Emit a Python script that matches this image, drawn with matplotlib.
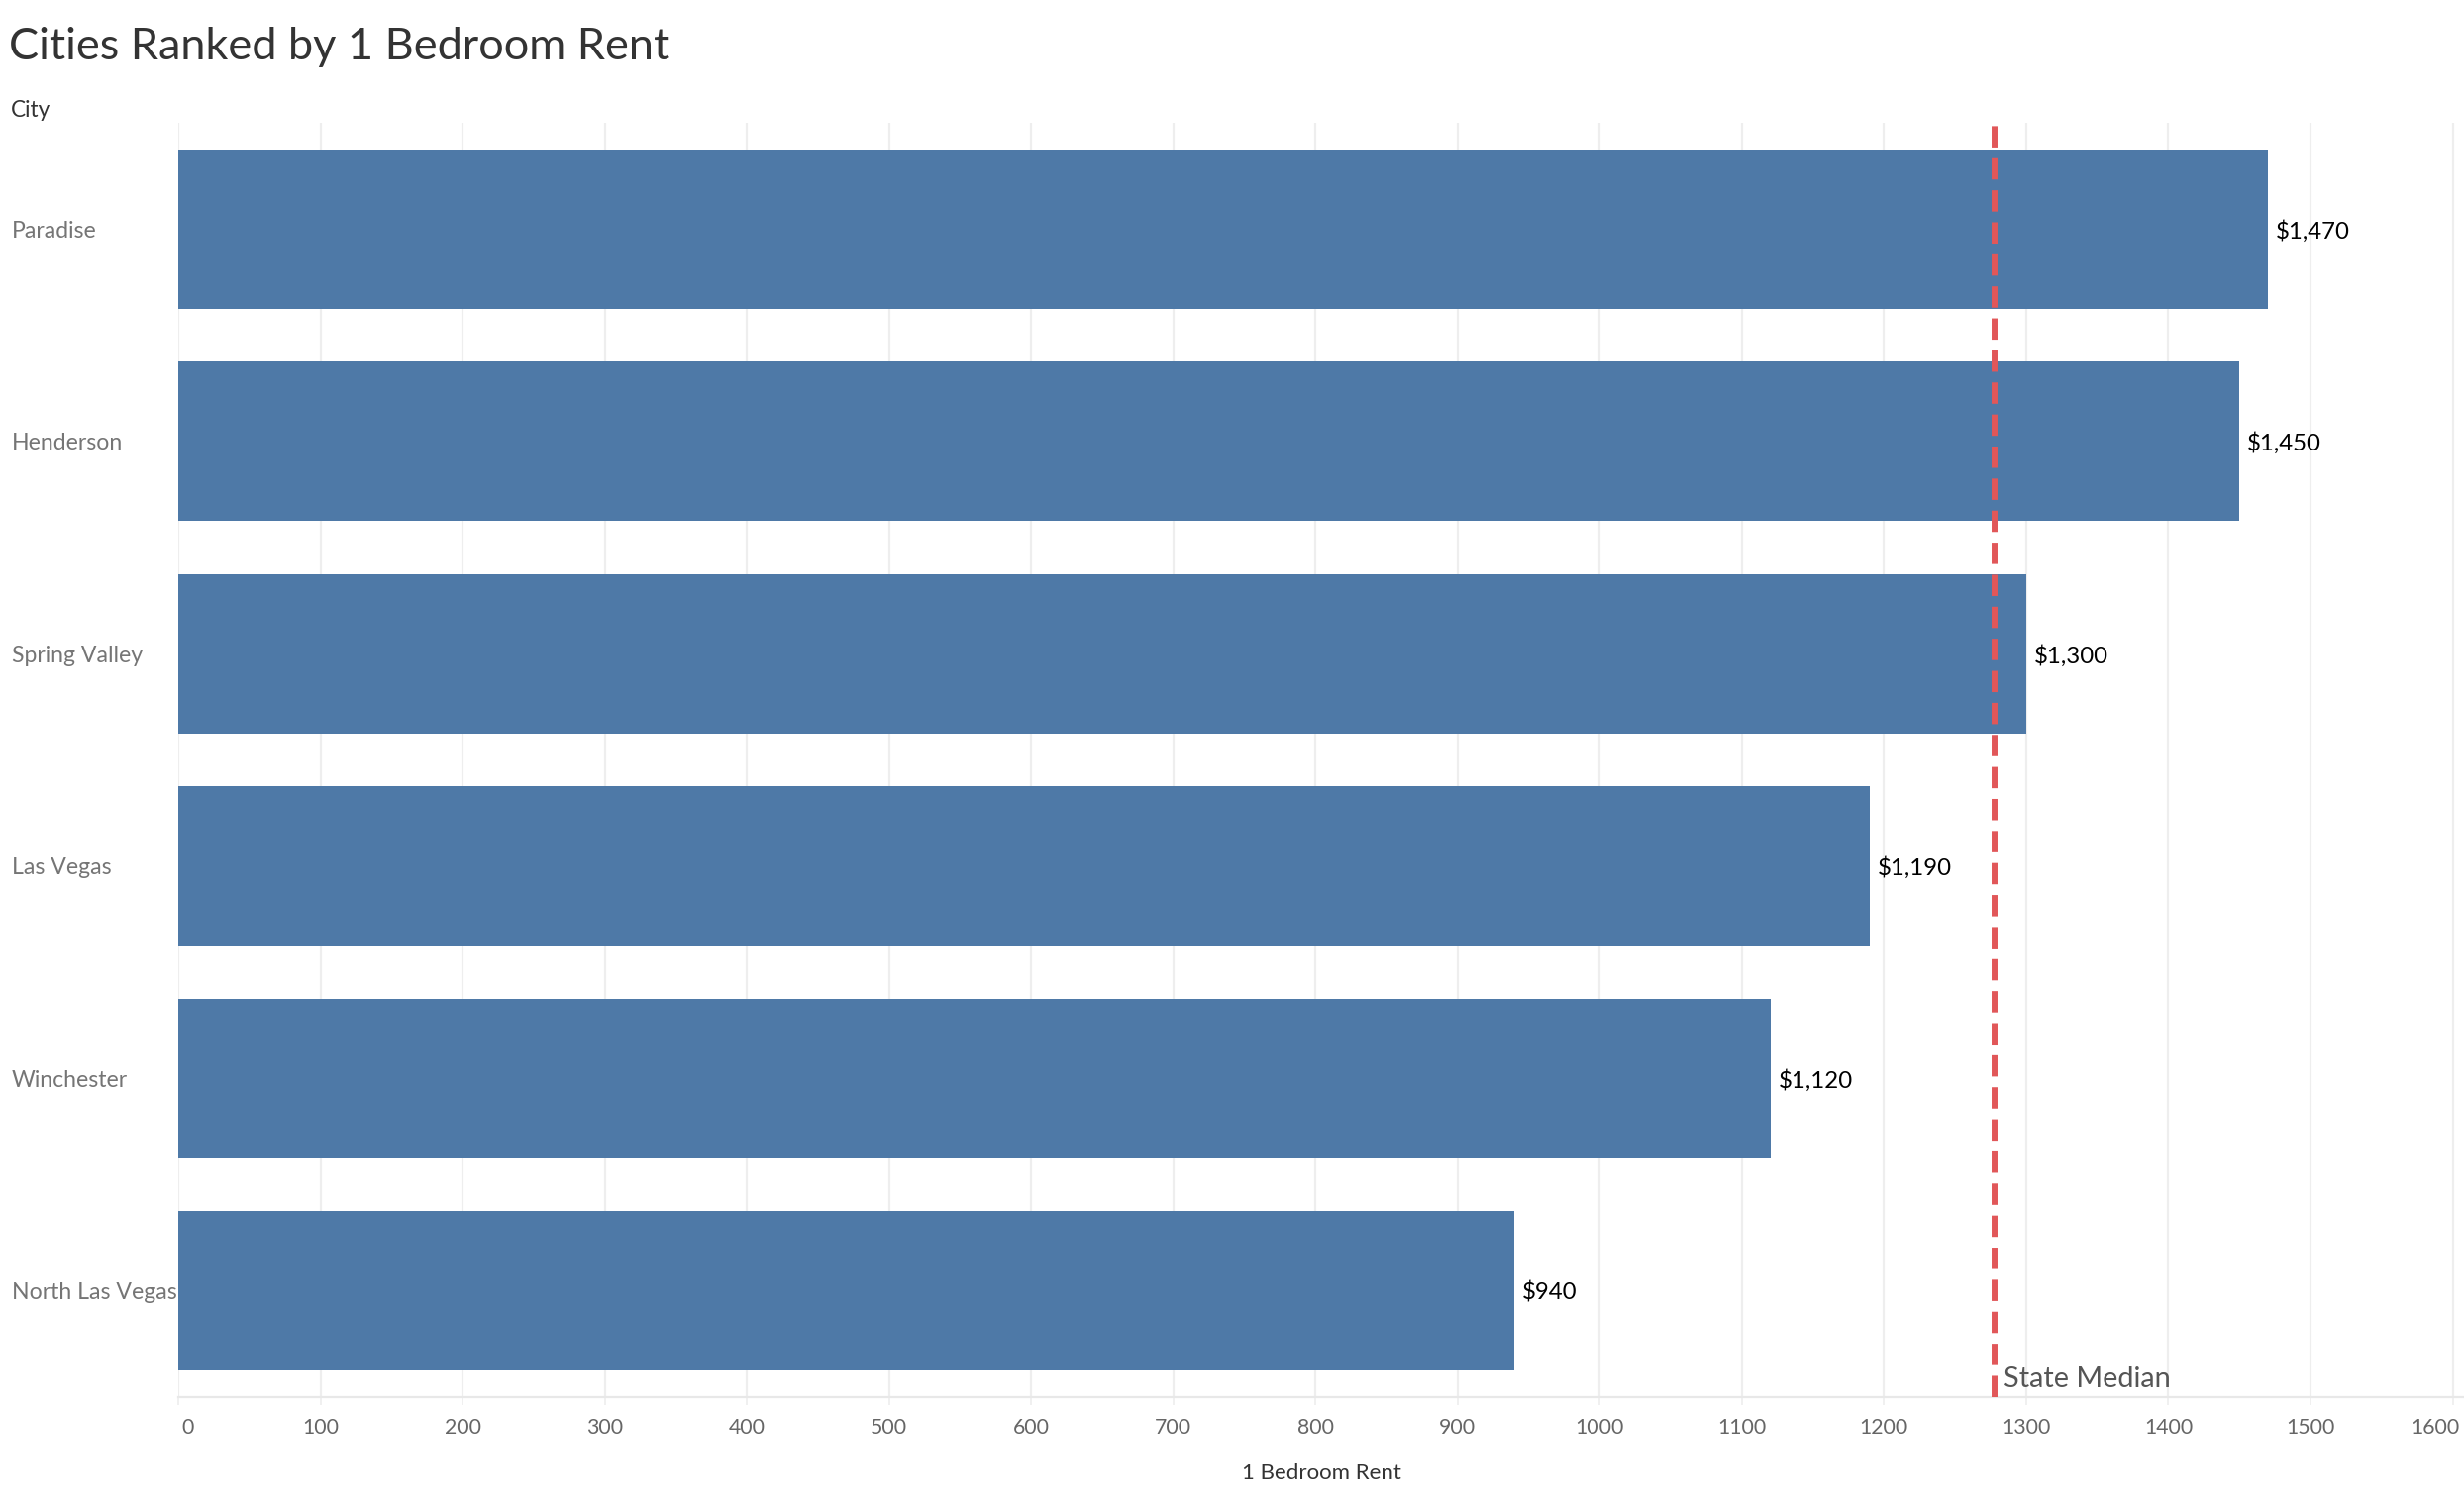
import matplotlib
matplotlib.use("Agg")
import matplotlib.pyplot as plt
import matplotlib.transforms as mtransforms

# ---- data ----
cities = ["Paradise", "Henderson", "Spring Valley", "Las Vegas", "Winchester", "North Las Vegas"]
rent = [1470, 1450, 1300, 1190, 1120, 940]
state_median = 1278
xticks = [0, 100, 200, 300, 400, 500, 600, 700, 800, 900, 1000, 1100, 1200, 1300, 1400, 1500, 1600]
xtick_labels = [str(t) for t in xticks]
value_labels = ["$1,470", "$1,450", "$1,300", "$1,190", "$1,120", "$940"]

FONT = ["Lato", "DejaVu Sans"]
plt.rcParams["font.family"] = FONT
plt.rcParams["lines.scale_dashes"] = False

W, H = 2488, 1514
DPI = 100
fig = plt.figure(figsize=(W / DPI, H / DPI), dpi=DPI)
fig.patch.set_facecolor("white")

left_px, right_px, top_px, bottom_px = 180, 2488, 124, 1411
ax = fig.add_axes([left_px / W, 1 - bottom_px / H, (right_px - left_px) / W, (bottom_px - top_px) / H])

BLUE = "#4E79A7"
RED = "#E15759"
GRID = "#EEEEEE"

ypos = list(range(len(cities)))
ax.barh(ypos, rent, height=0.75, color=BLUE, zorder=2)
ax.set_xlim(0, 1608)
ax.set_ylim(len(cities) - 0.5, -0.5)

# grid
ax.set_axisbelow(True)
ax.set_xticks(xticks)
ax.set_xticklabels(xtick_labels)
ax.grid(axis="x", color=GRID, linewidth=1.6, zorder=0)
ax.grid(axis="y", visible=False)
for s in ["top", "right", "left"]:
    ax.spines[s].set_visible(False)
ax.spines["bottom"].set_color("#E8E8E8")
ax.spines["bottom"].set_linewidth(1.6)
ax.tick_params(axis="x", length=5.8, width=1.2, color="#EEEEEE", pad=9, labelcolor="#666666")
ax.tick_params(axis="y", length=0, pad=121, labelcolor="#757575")
ax.set_yticks(ypos)
ax.set_yticklabels(cities)
for lab in ax.get_yticklabels():
    lab.set_ha("left")

# median line
ax.plot([state_median, state_median], [len(cities) - 0.5, -0.5], color=RED,
        linewidth=4.3, linestyle=(0, (15.5, 7.8)), solid_capstyle="butt",
        dash_capstyle="butt", zorder=4, clip_on=False)

renderer = fig.canvas.get_renderer()

def fit_size(txt, target_w):
    w = txt.get_window_extent(renderer).width
    txt.set_fontsize(txt.get_fontsize() * target_w / w)

# tick label size: "100" about 37 px wide
probe = fig.text(0, 0, "100", fontsize=20)
fit_size(probe, 37)
tick_fs = probe.get_fontsize()
probe.remove()
ax.tick_params(axis="x", labelsize=tick_fs)
xl = ax.get_xticklabels()
xl[0].set_ha("left")
xl[0].set_transform(xl[0].get_transform() + mtransforms.ScaledTranslation(3 / DPI, 0, fig.dpi_scale_trans))
xl[-1].set_ha("right")
xl[-1].set_transform(xl[-1].get_transform() + mtransforms.ScaledTranslation(7 / DPI, 0, fig.dpi_scale_trans))

# category label size: "Spring Valley" 132 px wide
probe = fig.text(0, 0, "Spring Valley", fontsize=20)
fit_size(probe, 132)
cat_fs = probe.get_fontsize()
probe.remove()
ax.tick_params(axis="y", labelsize=cat_fs)

# value labels
probe = fig.text(0, 0, "$1,470", fontsize=20)
fit_size(probe, 75)
val_fs = probe.get_fontsize()
probe.remove()
for yv, v, lab in zip(ypos, rent, value_labels):
    tr = mtransforms.offset_copy(ax.transData, fig=fig, x=8, y=0, units="dots")
    ax.text(v, yv, lab, transform=tr, ha="left", va="center_baseline",
            fontsize=val_fs, color="#000000", zorder=5)

# state median label
sm = ax.text(state_median, 0, "State Median", ha="left", va="baseline", color="#555555",
             fontsize=20, zorder=5,
             transform=mtransforms.blended_transform_factory(ax.transData, fig.transFigure))
fit_size(sm, 169)
sm.set_transform(mtransforms.offset_copy(
    mtransforms.blended_transform_factory(ax.transData, fig.transFigure),
    fig=fig, x=9, y=0, units="dots"))
sm.set_position((state_median, 1 - 1401 / H))

# title
title = fig.text(9 / W, 1 - 60 / H, "Cities Ranked by 1 Bedroom Rent", ha="left", va="baseline",
                 color="#333333", fontsize=30)
fit_size(title, 667)

# "City" header
city = fig.text(11 / W, 1 - 118 / H, "City", ha="left", va="baseline", color="#333333", fontsize=14)
fit_size(city, 40)

# x axis title
xt = fig.text((left_px + right_px) / 2 / W, 1 - 1494 / H, "1 Bedroom Rent", ha="center", va="baseline",
              color="#333333", fontsize=14)
fit_size(xt, 161)

fig.savefig("out.png", dpi=DPI, facecolor="white")
